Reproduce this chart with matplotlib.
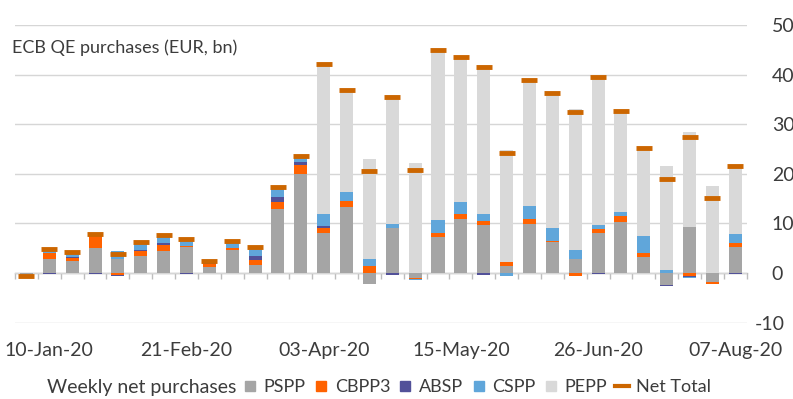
"""ECB QE weekly net purchases by programme (EUR bn), stacked bars + net total."""

import matplotlib.pyplot as plt
import numpy as np
import pandas as pd
from matplotlib.lines import Line2D
from matplotlib.transforms import ScaledTranslation

# ── Data ─────────────────────────────────────────────────────────────────────
weeks = pd.date_range("2020-01-03", periods=32, freq="7D")
week_labels = [d.strftime("%d-%b-%y") for d in weeks]

pspp = [-0.5, 2.8, 2.4, 5.1, 2.9, 3.4, 4.5, 5.3, 1.2, 4.7, 1.6, 12.9, 20.0, 8.0, 13.4, -2.2,
        9.0, -1.0, 7.2, 10.9, 9.7, 1.4, 9.9, 6.2, 2.8, 8.1, 10.3, 3.2, -2.5, 9.3, -1.8, 5.3]
cbpp3 = [0.0, 1.2, 0.6, 2.5, -0.3, 1.1, 1.2, 0.2, 0.6, 0.4, 1.0, 1.4, 1.8, 1.1, 1.2, 1.5,
         0.0, -0.2, 0.9, 1.1, 0.8, 0.8, 1.1, 0.2, -0.5, 0.7, 1.3, 0.9, 0.0, -0.5, -0.5, 0.8]
absp = [0.0, -0.2, 0.2, -0.2, -0.3, 0.2, 0.3, -0.2, 0.2, 0.0, 0.8, 1.0, 0.5, 0.4, 0.0, -0.1,
        -0.3, 0.0, 0.0, 0.0, -0.3, 0.0, 0.0, 0.0, 0.0, -0.2, 0.0, 0.0, -0.1, -0.2, 0.0, -0.1]
cspp = [0.0, 1.1, 1.0, 0.3, 1.5, 1.5, 1.6, 1.5, 0.4, 1.3, 1.9, 1.8, 1.3, 2.4, 1.7, 1.3,
        0.9, -0.2, 2.6, 2.4, 1.4, -0.6, 2.5, 2.6, 1.8, 0.9, 0.7, 3.3, 0.7, -0.3, 0.0, 1.7]
pepp = [0.0, 0.0, 0.0, 0.0, 0.0, 0.0, 0.0, 0.0, 0.0, 0.0, 0.0, 0.0, 0.0, 30.3, 20.6, 20.2,
        25.9, 22.2, 34.2, 29.1, 30.0, 22.7, 25.4, 27.2, 28.4, 30.1, 20.4, 17.8, 20.9, 19.1, 17.6, 13.8]
net_total = [-0.5, 4.9, 4.3, 7.8, 3.8, 6.2, 7.6, 6.8, 2.4, 6.4, 5.3, 17.3, 23.6, 42.2, 36.9, 20.6,
             35.5, 20.8, 44.9, 43.5, 41.6, 24.3, 38.9, 36.2, 32.5, 39.6, 32.7, 25.2, 19.0, 27.4, 15.2, 21.5]

SERIES = [
    ("PSPP", pspp, "#A5A5A5"),
    ("CBPP3", cbpp3, "#FF6200"),
    ("ABSP", absp, "#525199"),
    ("CSPP", cspp, "#60A6DA"),
    ("PEPP", pepp, "#D9D9D9"),
]
NET_COLOR = "#CC6600"
TEXT_COLOR = "#3C3C3C"
# ─────────────────────────────────────────────────────────────────────────────

plt.rcParams["font.family"] = ["Lato", "DejaVu Sans"]

fig = plt.figure(figsize=(7.93, 3.99), dpi=100)
ax = fig.add_axes([15 / 793, 76.3 / 399, 731.7 / 793, 297.7 / 399])

x = np.arange(len(weeks))
pos_base = np.zeros(len(x))
neg_base = np.zeros(len(x))
for name, vals, color in SERIES:
    vals = np.asarray(vals, dtype=float)
    base = np.where(vals >= 0, pos_base, neg_base)
    ax.bar(x, vals, width=0.57, bottom=base, color=color, zorder=2, linewidth=0)
    pos_base += np.clip(vals, 0, None)
    neg_base += np.clip(vals, None, 0)

ax.plot(x, net_total, linestyle="none", marker="_", markersize=11.5,
        markeredgewidth=3.5, color=NET_COLOR, zorder=3)

ymin, ymax = -10, 50
ax.set_xlim(-0.5, len(x) - 0.5)
ax.set_ylim(ymin, ymax)
yticks = np.arange(ymin, ymax + 1, 10)
ax.set_yticks(yticks)
ax.set_yticklabels([f"{v:d}" for v in yticks])
ax.yaxis.tick_right()
ax.grid(axis="y", color="#D6D6D6", linewidth=1.0, zorder=0)
ax.set_axisbelow(True)
for s in ax.spines.values():
    s.set_visible(False)

ax.tick_params(axis="y", length=0, pad=18, labelsize=14, labelcolor=TEXT_COLOR)
for v, lab in zip(yticks, ax.get_yticklabels()):
    lab.set_horizontalalignment("left")
    if v < 0:
        lab.set_transform(lab.get_transform() + ScaledTranslation(-0.17, 0, fig.dpi_scale_trans))

# category labels every 6 weeks, low position
label_idx = x[1::6]
ax.set_xticks(label_idx)
ax.set_xticklabels([week_labels[i] for i in label_idx])
ax.tick_params(axis="x", length=0, pad=14, labelsize=14, labelcolor=TEXT_COLOR)

# zero line with tick marks between categories
zero_loc = (0 - ymin) / (ymax - ymin)
sec = ax.secondary_xaxis(zero_loc)
sec.set_xticks(np.arange(len(x) + 1) - 0.5)
sec.tick_params(axis="x", length=4.5, width=1, color="#BDBDBD", labelbottom=False)
sec.spines["bottom"].set_color("#BDBDBD")
sec.spines["bottom"].set_linewidth(1)

fig.text(12 / 793, 1 - 48 / 399, "ECB QE purchases (EUR, bn)", fontsize=13,
         color=TEXT_COLOR, va="center", ha="left")

# legend
fig.text(47 / 793, 1 - 387 / 399, "Weekly net purchases", fontsize=14,
         color=TEXT_COLOR, va="center", ha="left")
handles = [Line2D([], [], linestyle="none", marker="s", markersize=6.5, color=c, label=n)
           for n, _, c in SERIES]
handles.append(Line2D([], [], color=NET_COLOR, linewidth=3, label="Net Total"))
fig.legend(handles=handles, loc="center left", bbox_to_anchor=(243 / 793, 1 - 387 / 399),
           ncol=6, frameon=False, fontsize=13, handlelength=0.8, handletextpad=0.35,
           columnspacing=0.45, labelcolor=TEXT_COLOR, borderpad=0, borderaxespad=0)

fig.savefig("out.png", dpi=100)
